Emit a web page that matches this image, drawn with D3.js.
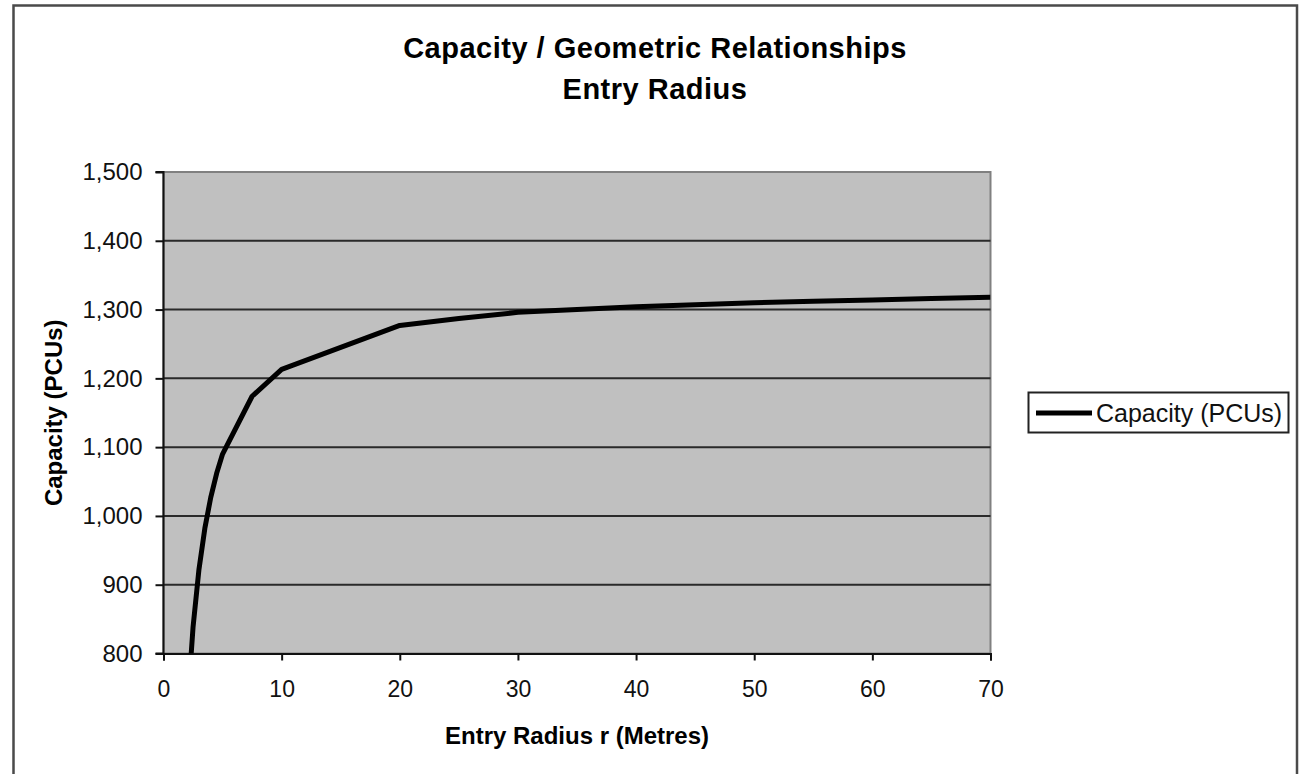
<!DOCTYPE html>
<html><head><meta charset="utf-8">
<script src="https://cdn.jsdelivr.net/npm/d3@7"></script>
<style>html,body{margin:0;padding:0;background:#fff;overflow:hidden}svg{display:block}</style>
</head><body>
<svg id="c" width="1309" height="774"></svg>
<script>
const titleLines = ["Capacity / Geometric Relationships", "Entry Radius"];
const xTitle = "Entry Radius r (Metres)";
const yTitle = "Capacity (PCUs)";
const seriesName = "Capacity (PCUs)";
const radius = [2, 2.5, 3, 3.5, 4, 4.5, 5, 7.5, 10, 20, 25, 30, 35, 40, 45, 50, 55, 60, 65, 70];
const capacity = [715, 838, 922, 982, 1027, 1062, 1090, 1174, 1213, 1277, 1287, 1296, 1300, 1304, 1307, 1310, 1312, 1314, 1316, 1318];
const xTicks = [0, 10, 20, 30, 40, 50, 60, 70];
const yTicks = [800, 900, 1000, 1100, 1200, 1300, 1400, 1500];

const svg = d3.select("#c");
const font = "'Liberation Sans', Arial, sans-serif";
const P = {l: 163.5, r: 990.5, t: 172, b: 653.5};

// chart area border
svg.append("rect").attr("x", 13.5).attr("y", 5.5).attr("width", 1283.5).attr("height", 800)
  .attr("fill", "#fff").attr("stroke", "#4a4a4a").attr("stroke-width", 2.5);

const x = d3.scaleLinear().domain([0, 70]).range([P.l, P.r]);
const y = d3.scaleLinear().domain([800, 1500]).range([P.b, P.t]);

// plot area
svg.append("rect").attr("x", P.l).attr("y", P.t).attr("width", P.r - P.l).attr("height", P.b - P.t)
  .attr("fill", "#c0c0c0").attr("stroke", "#808080").attr("stroke-width", 2);

// gridlines
svg.append("g").selectAll("line").data(yTicks.filter(v => v > 800 && v < 1500)).join("line")
  .attr("x1", P.l).attr("x2", P.r).attr("y1", d => y(d)).attr("y2", d => y(d))
  .attr("stroke", "#2a2a2a").attr("stroke-width", 2);

// axes
const yAxis = d3.axisLeft(y).tickValues(yTicks).tickSize(8).tickPadding(13).tickFormat(d3.format(","));
const gy = svg.append("g").attr("transform", `translate(${P.l},0)`).call(yAxis);
const xAxis = d3.axisBottom(x).tickValues(xTicks).tickSize(7).tickPadding(20).tickFormat(d3.format("d"));
const gx = svg.append("g").attr("transform", `translate(0,${P.b})`).call(xAxis);
[gx, gy].forEach(g => {
  g.select(".domain").attr("stroke", "#111").attr("stroke-width", 2);
  g.selectAll(".tick line").attr("stroke", "#111").attr("stroke-width", 2);
  g.selectAll(".tick text").attr("font-family", font).attr("fill", "#111");
});
gx.selectAll(".tick text").attr("font-size", 23);
gy.selectAll(".tick text").attr("font-size", 24);
gy.select(".domain").attr("d", `M-8,${P.b}H0V${P.t}H-8`);

// series
svg.append("clipPath").attr("id", "clip").append("rect")
  .attr("x", P.l).attr("y", P.t).attr("width", P.r - P.l).attr("height", P.b - P.t);
const pts = radius.map((r, i) => [r, capacity[i]]);
svg.append("path").datum(pts).attr("clip-path", "url(#clip)")
  .attr("d", d3.line().x(d => x(d[0])).y(d => y(d[1])))
  .attr("fill", "none").attr("stroke", "#000").attr("stroke-width", 5).attr("stroke-linejoin", "round");

// titles
svg.append("text").attr("x", 655).attr("y", 58).attr("text-anchor", "middle").attr("letter-spacing", 0.5)
  .attr("font-family", font).attr("font-weight", "bold").attr("font-size", 29).text(titleLines[0]);
svg.append("text").attr("x", 655).attr("y", 99).attr("text-anchor", "middle").attr("letter-spacing", 0.5)
  .attr("font-family", font).attr("font-weight", "bold").attr("font-size", 29).text(titleLines[1]);
svg.append("text").attr("x", (P.l + P.r) / 2).attr("y", 744).attr("text-anchor", "middle")
  .attr("font-family", font).attr("font-weight", "bold").attr("font-size", 24).text(xTitle);
svg.append("text").attr("transform", `translate(62,${(P.t + P.b) / 2}) rotate(-90)`).attr("text-anchor", "middle")
  .attr("font-family", font).attr("font-weight", "bold").attr("font-size", 24).text(yTitle);

// legend
const lg = svg.append("g");
lg.append("rect").attr("x", 1028.5).attr("y", 392.5).attr("width", 260).attr("height", 40)
  .attr("fill", "#fff").attr("stroke", "#222").attr("stroke-width", 2);
lg.append("line").attr("x1", 1036).attr("x2", 1092).attr("y1", 413).attr("y2", 413)
  .attr("stroke", "#000").attr("stroke-width", 5);
lg.append("text").attr("x", 1096).attr("y", 422).attr("font-family", font).attr("font-size", 25)
  .attr("fill", "#111").text(seriesName);
</script>
</body></html>
